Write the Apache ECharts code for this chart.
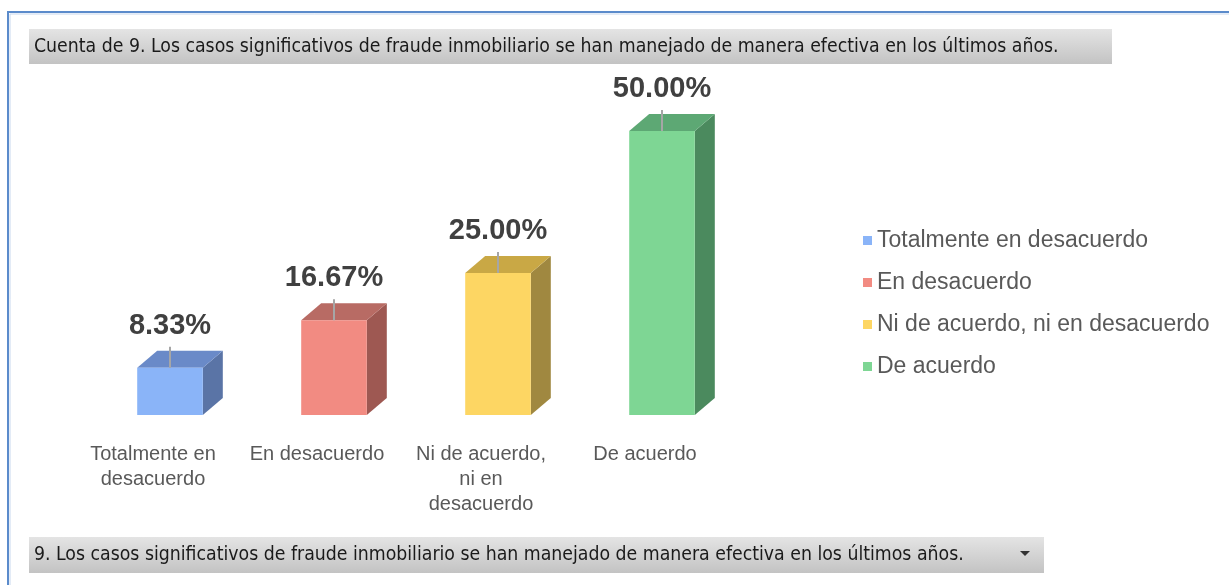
<!DOCTYPE html>
<html>
<head>
<meta charset="utf-8">
<style>
  html, body { margin: 0; padding: 0; background: #fff; }
  #chart-container { width: 1229px; height: 585px; }
</style>
<script src="https://cdn.jsdelivr.net/npm/echarts@6/dist/echarts.min.js"></script>
</head>
<body>
<div id="chart-container"></div>
<script>
var categories = ['Totalmente en desacuerdo', 'En desacuerdo', 'Ni de acuerdo, ni en desacuerdo', 'De acuerdo'];
// category names as Excel wraps them under the bars
var axisLabels = ['Totalmente en\ndesacuerdo', 'En desacuerdo', 'Ni de acuerdo,\nni en\ndesacuerdo', 'De acuerdo'];
var values = [8.33, 16.67, 25.00, 50.00];
// front / top / side colours of each 3d bar
var frontColors = ['#8AB4F8', '#F28B82', '#FDD663', '#7ED694'];
var topColors = ['#6A8AC8', '#B86B64', '#C9A845', '#5DA874'];
var sideColors = ['#5A74A6', '#9E5852', '#A08840', '#4B8A5E'];
var titleText = 'Cuenta de 9. Los casos significativos de fraude inmobiliario se han manejado de manera efectiva en los últimos años.';
var filterText = '9. Los casos significativos de fraude inmobiliario se han manejado de manera efectiva en los últimos años.';

var dom = document.getElementById('chart-container');
var myChart = echarts.init(dom, null, { renderer: 'canvas' });

var DX = 20, DY = 17;

function renderBar(params, api) {
  var i = api.value(0);
  var top = api.coord([i, api.value(1)]);
  var base = api.coord([i, 0]);
  var w = api.size([1, 0])[0] * 0.4;
  var x0 = top[0] - w / 2, x1 = top[0] + w / 2;
  var y0 = top[1], y1 = base[1];
  return {
    type: 'group',
    children: [
      { type: 'polygon', shape: { points: [[x1, y0], [x1 + DX, y0 - DY], [x1 + DX, y1 - DY], [x1, y1]] },
        style: { fill: sideColors[i] } },
      { type: 'polygon', shape: { points: [[x0, y0], [x0 + DX, y0 - DY], [x1 + DX, y0 - DY], [x1, y0]] },
        style: { fill: topColors[i] } },
      { type: 'rect', shape: { x: x0, y: y0, width: w, height: y1 - y0 },
        style: { fill: frontColors[i] } },
      { type: 'line', shape: { x1: top[0], y1: y0 - 21, x2: top[0], y2: y0 },
        style: { stroke: '#A6A6A6', lineWidth: 2 } },
      { type: 'text', x: top[0], y: y0 - 42,
        style: { text: api.value(1).toFixed(2) + '%', fill: '#404040', font: 'bold 29px Arial, "Liberation Sans", sans-serif',
          align: 'center', verticalAlign: 'middle' } }
    ]
  };
}

var btnGradient = new echarts.graphic.LinearGradient(0, 0, 0, 1, [
  { offset: 0, color: '#E4E4E4' }, { offset: 1, color: '#C3C3C3' }
]);

var option = {
  animation: false,
  grid: { left: 88, right: 485, top: 131, bottom: 170 },
  xAxis: {
    type: 'category',
    data: categories,
    axisLine: { show: false },
    axisTick: { show: false },
    axisLabel: {
      interval: 0,
      margin: 27,
      color: '#595959',
      fontFamily: 'Arial, "Liberation Sans", sans-serif',
      fontSize: 20,
      lineHeight: 25,
      padding: [0, 34, 0, 0],
      formatter: function (v, i) { return axisLabels[i]; }
    }
  },
  yAxis: { type: 'value', min: 0, max: 50, show: false, splitLine: { show: false } },
  legend: {
    orient: 'vertical',
    left: 858,
    top: 224,
    itemWidth: 9,
    itemHeight: 9,
    itemGap: 19,
    icon: 'rect',
    textStyle: { color: '#595959', fontSize: 23, lineHeight: 22, fontFamily: 'Arial, "Liberation Sans", sans-serif' },
    data: categories
  },
  series: [
    {
      type: 'custom',
      renderItem: renderBar,
      data: values.map(function (v, i) { return [i, v]; }),
      encode: { x: 0, y: 1 }
    }
  ].concat(categories.map(function (c, i) {
    // empty series so the legend shows one entry per category
    return { name: c, type: 'bar', data: [], itemStyle: { color: frontColors[i] } };
  })),
  graphic: [
    { type: 'polyline', shape: { points: [[8, 585], [8, 12], [1229, 12]] },
      style: { stroke: '#5B8BCB', lineWidth: 2, fill: null } },
    { type: 'polyline', shape: { points: [[10, 585], [10, 14], [1229, 14]] },
      style: { stroke: '#C8D8EE', lineWidth: 1, fill: null } },
    { type: 'rect', shape: { x: 29, y: 29, width: 1083, height: 35 }, style: { fill: btnGradient } },
    { type: 'text', x: 34, y: 47,
      style: { text: titleText, fill: '#1A1A1A', font: '19.3px "DejaVu Sans Condensed", sans-serif', verticalAlign: 'middle' } },
    { type: 'rect', shape: { x: 29, y: 537, width: 1015, height: 36 }, style: { fill: btnGradient } },
    { type: 'text', x: 34, y: 555,
      style: { text: filterText, fill: '#1A1A1A', font: '19.3px "DejaVu Sans Condensed", sans-serif', verticalAlign: 'middle' } },
    { type: 'polygon', shape: { points: [[1020, 551], [1030, 551], [1025, 556]] }, style: { fill: '#333' } }
  ]
};

myChart.setOption(option);
window.addEventListener('resize', myChart.resize);
</script>
</body>
</html>
